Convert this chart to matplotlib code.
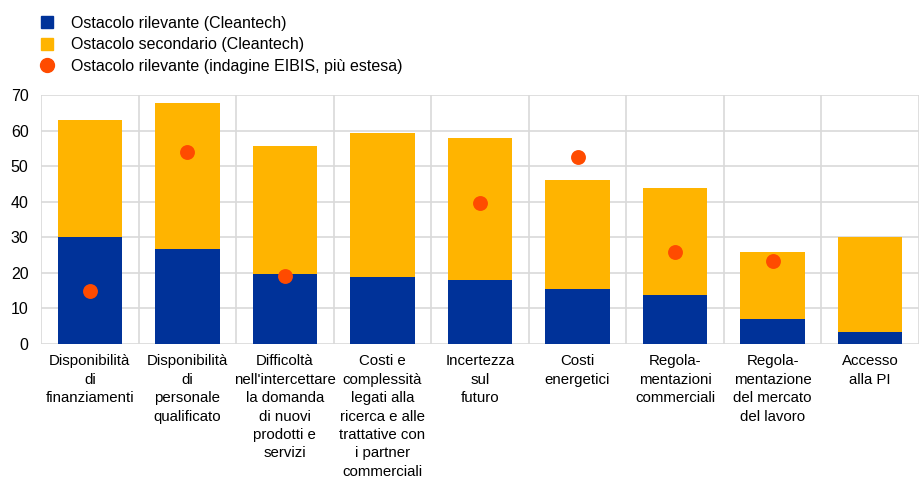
import numpy as np
import matplotlib
matplotlib.use("Agg")
from matplotlib import pyplot as plt
from matplotlib.lines import Line2D

plt.rcParams["font.family"] = ["Liberation Sans", "DejaVu Sans"]

# categorie (etichette asse x)
categories = [
    "Disponibilità\ndi\nfinanziamenti",
    "Disponibilità\ndi\npersonale\nqualificato",
    "Difficoltà\nnell'intercettare\nla domanda\ndi nuovi\nprodotti e\nservizi",
    "Costi e\ncomplessità\nlegati alla\nricerca e alle\ntrattative con\ni partner\ncommerciali",
    "Incertezza\nsul\nfuturo",
    "Costi\nenergetici",
    "Regola-\nmentazioni\ncommerciali",
    "Regola-\nmentazione\ndel mercato\ndel lavoro",
    "Accesso\nalla PI",
]
# ostacolo rilevante (Cleantech)
relevant = [30.2, 26.7, 19.8, 18.8, 18.1, 15.5, 13.8, 6.9, 3.4]
# totale rilevante + secondario (Cleantech)
total = [63.0, 67.7, 55.8, 59.4, 58.0, 46.1, 43.9, 25.9, 30.2]
# indagine EIBIS (nan = non disponibile)
eibis = [14.8, 54.0, 19.2, np.nan, 39.7, 52.6, 26.0, 23.4, np.nan]

labels = [
    "Ostacolo rilevante (Cleantech)",
    "Ostacolo secondario (Cleantech)",
    "Ostacolo rilevante (indagine EIBIS, più estesa)",
]

BLUE = "#003299"
YELLOW = "#FFB400"
ORANGE = "#FF4B00"
GRID = "#D9D9D9"

relevant = np.array(relevant)
secondary = np.array(total) - relevant
x = np.arange(len(categories))

fig = plt.figure(figsize=(9.19, 4.79), dpi=100)
ax = fig.add_axes([41 / 919, 1 - 344 / 479, 1 - 41 / 919, (344 - 95) / 479])

ax.bar(x, relevant, width=0.66, color=BLUE, zorder=2)
ax.bar(x, secondary, width=0.66, bottom=relevant, color=YELLOW, zorder=2)
ax.scatter(x, eibis, s=115, color=ORANGE, zorder=3, linewidths=0)

ax.set_ylim(0, 70)
ax.set_yticks(np.arange(0, 71, 10))
ax.set_xlim(-0.5, 8.42)
ax.set_xticks(x)
ax.set_xticklabels(categories, fontsize=10.8, linespacing=1.4, va="top")
ax.set_xticks(np.arange(-0.5, 9, 1), minor=True)
ax.tick_params(axis="x", which="both", length=0, pad=7.5)
ax.tick_params(axis="y", length=0, pad=9, labelsize=11.5)

ax.grid(axis="y", color=GRID, linewidth=1.2, zorder=0)
ax.grid(axis="x", which="minor", color=GRID, linewidth=1.2, zorder=0)
ax.grid(axis="x", which="major", visible=False)
for s in ax.spines.values():
    s.set_visible(False)

handles = [
    Line2D([], [], marker="s", linestyle="none", markersize=9, color=BLUE),
    Line2D([], [], marker="s", linestyle="none", markersize=9, color=YELLOW),
    Line2D([], [], marker="o", linestyle="none", markersize=10, color=ORANGE),
]
fig.legend(handles, labels, loc="upper left", bbox_to_anchor=(0.03, 0.99),
           frameon=False, fontsize=11.5, handlelength=1.0, handletextpad=1.0,
           labelspacing=0.4, borderaxespad=0.3)

fig.savefig("out.png", dpi=100)
